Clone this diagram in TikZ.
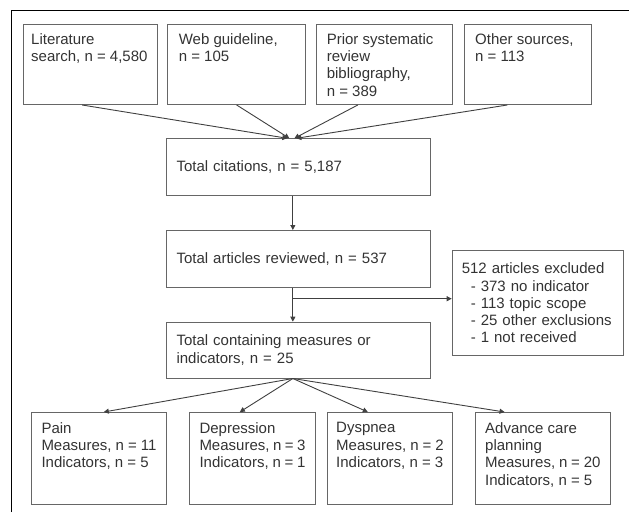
\documentclass[tikz,border=0pt]{standalone}
\usepackage{fontspec}
\setmainfont{Liberation Sans}
\usetikzlibrary{arrows.meta}
% text held at the top of a box of fixed size
\newcommand{\toptext}[3]{\parbox[c][#2][t]{#1}{#3}}

\begin{document}
\begin{tikzpicture}[x=1pt, y=-1pt,
    every node/.style = {shape=rectangle, draw=black!60, line width=1pt,
      text=black!80, font=\fontsize{15}{17.3}\selectfont,
      anchor=north west, inner xsep=10pt, inner ysep=0pt},
    midbox/.style = {align=left, text width=243.7pt, minimum height=#1},
    link/.style = {draw=black!75, line width=0.9pt,
      -{Triangle[length=5pt,width=5pt]}}]
  \useasboundingbox (0,0) rectangle (629,512);
  \draw[line width=0.8pt] (11,512) -- (11,10) -- (629,10);
  % sources
  \node[inner xsep=8pt, inner ysep=9pt] (lit) at (22.7,24)
    {\toptext{118pt}{62pt}{Literature\\search, n = 4,580}};
  \node[inner xsep=11pt, inner ysep=9pt] (web) at (167.3,24)
    {\toptext{115.7pt}{62pt}{Web guideline,\\n = 105}};
  \node[inner xsep=10.6pt, inner ysep=9pt] (prior) at (315.7,24)
    {\toptext{115.4pt}{62pt}{Prior systematic\\review\\bibliography,\\n = 389}};
  \node[inner xsep=10.7pt, inner ysep=9pt] (other) at (464,24)
    {\toptext{105.3pt}{62pt}{Other sources,\\n = 113}};
  % main column
  \node[midbox=56.7pt] (cit) at (166,138.3) {Total citations, n = 5,187};
  \node[midbox=56.7pt] (rev) at (166,230) {Total articles reviewed, n = 537};
  \node[midbox=55.8pt] (meas) at (166,321.7)
    {Total containing measures or\\indicators, n = 25};
  \node[align=left, inner xsep=9.6pt, text width=152pt, minimum height=105pt]
    (excl) at (451.7,250)
    {512 articles excluded\\
     \hspace*{9pt}- 373 no indicator\\
     \hspace*{9pt}- 113 topic scope\\
     \hspace*{9pt}- 25 other exclusions\\
     \hspace*{9pt}- 1 not received};
  % topics
  \node[inner ysep=10pt] (pain) at (31,412)
    {\toptext{115pt}{71.7pt}{Pain\\Measures, n = 11\\Indicators, n = 5}};
  \node[inner ysep=10pt] (dep) at (189,412)
    {\toptext{106pt}{71.7pt}{Depression\\Measures, n = 3\\Indicators, n = 1}};
  \node[inner xsep=8.4pt, inner ysep=10pt] (dys) at (327.3,412)
    {\toptext{107.6pt}{71.7pt}{Dyspnea\\Measures, n = 2\\Indicators, n = 3}};
  \node[inner ysep=10pt] (acp) at (474.7,412)
    {\toptext{115.3pt}{71.7pt}{Advance care\\planning\\Measures, n = 20\\Indicators, n = 5}};
  % connectors
  \draw[link] ([xshift=-8pt]lit.south) -- ([xshift=-11pt]cit.north);
  \draw[link] (web.south) -- ([xshift=-9pt]cit.north);
  \draw[link] ([xshift=-26.7pt]prior.south) -- ([xshift=-4pt]cit.north);
  \draw[link] ([xshift=-20.6pt]other.south) -- ([xshift=-2pt]cit.north);
  \draw[link] ([xshift=-5.5pt]cit.south) -- ([xshift=-5.5pt]rev.north);
  \draw[link] ([xshift=-5.5pt]rev.south) -- ([xshift=-5.5pt]meas.north);
  \coordinate (split) at ([xshift=-5.5pt,yshift=-11pt]rev.south);
  \draw[link] (split) -- (split -| excl.west);
  \draw[link] ([xshift=-5.5pt]meas.south) -- ([xshift=4.8pt]pain.north);
  \draw[link] ([xshift=-5.5pt]meas.south) -- ([xshift=-12.7pt]dep.north);
  \draw[link] ([xshift=-5.5pt]meas.south) -- ([xshift=-22.2pt]dys.north);
  \draw[link] ([xshift=-5.5pt]meas.south) -- ([xshift=-38.3pt]acp.north);
\end{tikzpicture}
\end{document}
